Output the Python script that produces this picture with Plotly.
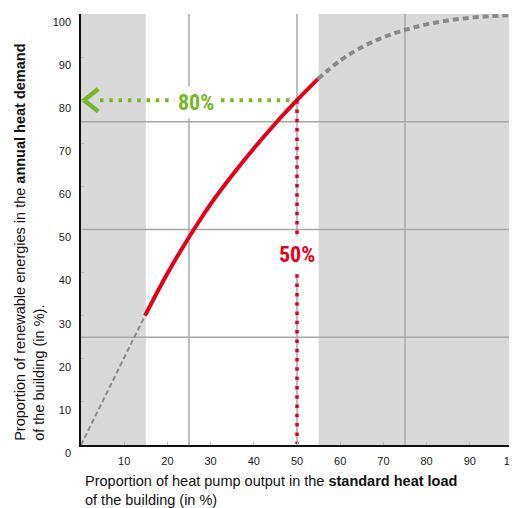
import plotly.graph_objects as go

# ---- data ----
x_ticks = [10, 20, 30, 40, 50, 60, 70, 80, 90, 100]
y_ticks = [0, 10, 20, 30, 40, 50, 60, 70, 80, 90, 100]
grid_vals = [25, 50, 75]

shade_left = [0, 15]
shade_right = [55, 100]

low_x = [0, 14.8]
low_y = [0, 30.0]

red_x = [14.8, 20, 25, 30, 35, 40, 45, 50, 54.8]
red_y = [30.0, 39.8, 48.2, 55.9, 62.6, 68.8, 74.6, 80.0, 84.9]

high_x = [54.8, 60, 65, 70, 75, 80, 85, 90, 95, 100]
high_y = [84.9, 89.2, 92.3, 94.6, 96.3, 97.6, 98.5, 99.1, 99.5, 99.8]

green_x = [4.4, 50.0]
green_y = [80, 80]
arrow_x = [4.0, 0.7, 4.0]
arrow_y = [82.6, 80.0, 77.4]

red_v_x = [50, 50, None, 50, 50]
red_v_y = [80, 48.6, None, 39.6, 0.3]

label_80 = "80%"
label_50 = "50%"

GREEN = "#79b62c"
RED = "#e3001b"
GRAY = "#8a8a8a"
SHADE = "#d9d9d9"
GRID = "#a8a8a8"
COND = "Liberation Sans Narrow, Roboto Condensed, DejaVu Sans Condensed, Arial Narrow, sans-serif"
SANS = "Arial, Liberation Sans, sans-serif"

fig = go.Figure()

fig.add_trace(go.Scatter(x=low_x, y=low_y, mode="lines",
                         line=dict(color=GRAY, width=2, dash="5px,3px"),
                         hoverinfo="skip"))
fig.add_trace(go.Scatter(x=high_x, y=high_y, mode="lines",
                         line=dict(color=GRAY, width=4, dash="6px,4px", shape="spline"),
                         hoverinfo="skip"))
fig.add_trace(go.Scatter(x=green_x, y=green_y, mode="lines",
                         line=dict(color=GREEN, width=4, dash="3.5px,5.8px"),
                         hoverinfo="skip"))
fig.add_trace(go.Scatter(x=arrow_x, y=arrow_y, mode="lines",
                         line=dict(color=GREEN, width=4.5),
                         hoverinfo="skip"))
fig.add_trace(go.Scatter(x=red_v_x, y=red_v_y, mode="lines",
                         line=dict(color=RED, width=3.5, dash="3.5px,5.8px"),
                         connectgaps=False, hoverinfo="skip"))
fig.add_trace(go.Scatter(x=red_x, y=red_y, mode="lines",
                         line=dict(color=RED, width=4, shape="spline"),
                         hoverinfo="skip"))

shapes = []
for a, b in (shade_left, shade_right):
    shapes.append(dict(type="rect", xref="x", yref="y", x0=a, x1=b, y0=0, y1=100,
                       fillcolor=SHADE, line=dict(width=0), layer="below"))
for g in grid_vals:
    shapes.append(dict(type="line", xref="x", yref="y", x0=0, x1=100, y0=g, y1=g,
                       line=dict(color=GRID, width=1.5), layer="below"))
    if g == 50:
        shapes.append(dict(type="line", xref="x", yref="y", x0=g, x1=g, y0=0, y1=red_v_y[3],
                           line=dict(color=GRID, width=1.5), layer="below"))
        shapes.append(dict(type="line", xref="x", yref="y", x0=g, x1=g, y0=red_v_y[1], y1=100,
                           line=dict(color=GRID, width=1.5), layer="below"))
    else:
        shapes.append(dict(type="line", xref="x", yref="y", x0=g, x1=g, y0=0, y1=100,
                           line=dict(color=GRID, width=1.5), layer="below"))

annotations = [
    dict(x=26.6, y=79.5, xref="x", yref="y", text=f"<b>{label_80}</b>", showarrow=False,
         font=dict(family=COND, size=22, color=GREEN), bgcolor="white", borderpad=3,
         xanchor="center", yanchor="middle"),
    dict(x=50.1, y=44.1, xref="x", yref="y", text=f"<b>{label_50}</b>", showarrow=False,
         font=dict(family=COND, size=22, color=RED),
         xanchor="center", yanchor="middle"),
    dict(x=-0.118, y=0.004, xref="paper", yref="paper", textangle=-90,
         text="Proportion of renewable energies in the <b>annual heat demand</b><br>of the building (in %).",
         showarrow=False, align="left", xanchor="center", yanchor="bottom",
         font=dict(family=SANS, size=14.5, color="#111111")),
    dict(x=0.005, y=-0.1067, xref="paper", yref="paper",
         text="Proportion of heat pump output in the <b>standard heat load</b><br>of the building (in %)",
         showarrow=False, align="left", xanchor="left", yanchor="middle",
         font=dict(family=SANS, size=14.5, color="#111111")),
]

tickfont = dict(family=SANS, size=11, color="#222222")

# the page body adds an 8px offset, so the figure is 8px smaller and margins compensate
fig.update_layout(
    width=509, height=500,
    margin=dict(l=73, r=4, t=6, b=63, autoexpand=False),
    paper_bgcolor="white", plot_bgcolor="white",
    showlegend=False,
    shapes=shapes,
    annotations=annotations,
    xaxis=dict(range=[0, 100], tickvals=x_ticks, ticktext=[str(v) for v in x_ticks],
               showgrid=False, zeroline=False, showline=True, linecolor="#111111", linewidth=1.5,
               ticks="inside", ticklen=3, tickcolor="#bbbbbb", tickfont=tickfont,
               ticklabelstandoff=5, ticklabeloverflow="allow", automargin=False, fixedrange=True),
    yaxis=dict(range=[0, 100], tickvals=y_ticks, ticktext=[str(v) for v in y_ticks],
               showgrid=False, zeroline=False, showline=True, linecolor="#111111", linewidth=1.5,
               ticks="inside", ticklen=3, tickcolor="#bbbbbb", tickfont=tickfont,
               ticklabelshift=8, ticklabelstandoff=6, ticklabeloverflow="allow",
               automargin=False, fixedrange=True),
)

fig.write_html("out.html")
